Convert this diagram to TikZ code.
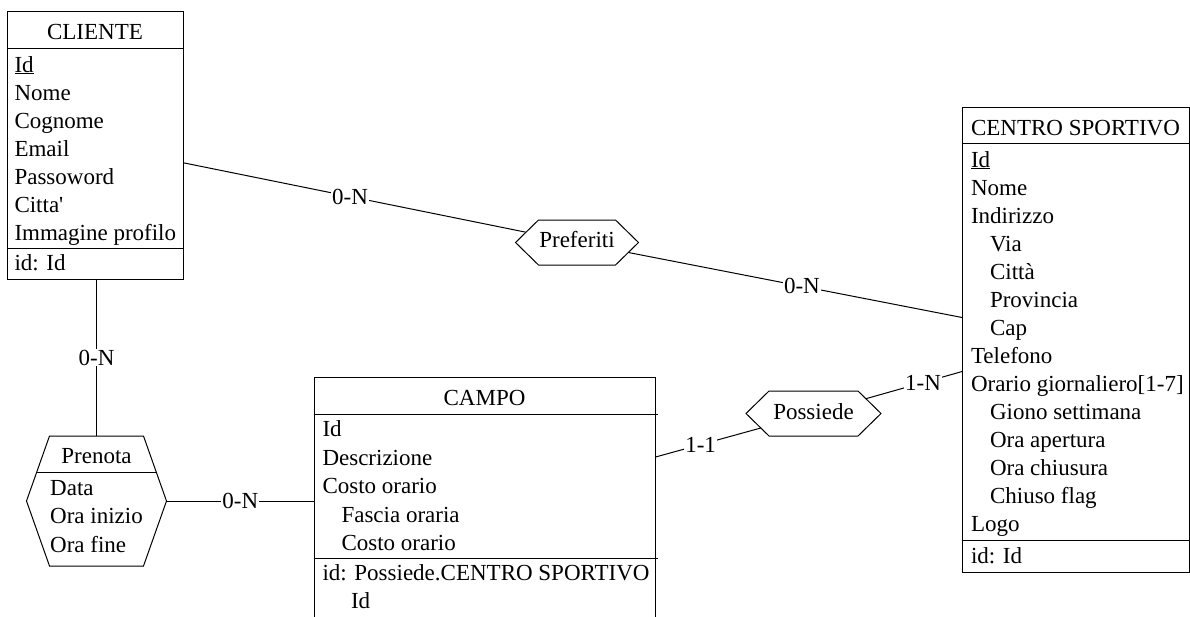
\documentclass[tikz,border=0pt]{standalone}
\usepackage{fontspec}
\setmainfont{Liberation Serif}
\usetikzlibrary{calc}
\pgfdeclarelayer{links}
\pgfdeclarelayer{frames}
\pgfsetlayers{links,frames,main}
\tikzset{
  entity/.style={draw, fill=white, inner sep=0pt, outer sep=0pt, line width=1pt},
  hexcore/.style={inner sep=0pt, outer sep=0pt},
  hexline/.style={draw=black, fill=white, line join=miter, line width=1pt},
  link/.style={draw=black, line width=1pt},
  title/.style={anchor=base, inner sep=0pt},
  attr/.style={anchor=base west, inner sep=0pt},
  card/.style={fill=white, inner sep=1pt},
}
\begin{document}
\begin{tikzpicture}[x=1pt, y=-1pt, line width=1pt, font=\fontsize{23}{28}\selectfont]
\useasboundingbox (0,0) rectangle (1190,616);

% ---------- entities ----------
\node[entity, minimum width=176pt, minimum height=268pt] (cliente) at (95,145) {};
\node[entity, minimum width=227pt, minimum height=465pt] (centro) at (1075.5,339.5) {};
\node[entity, minimum width=341pt, minimum height=254pt] (campo) at (484.5,504) {};

% header and identifier separators
\draw ($(cliente.north west)+(0,37)$) -- ($(cliente.north east)+(0,37)$);
\draw ($(cliente.south west)+(0,-31)$) -- ($(cliente.south east)+(0,-31)$);
\draw ($(centro.north west)+(0,36)$) -- ($(centro.north east)+(0,36)$);
\draw ($(centro.south west)+(0,-32)$) -- ($(centro.south east)+(0,-32)$);
\draw ($(campo.north west)+(0,37)$) -- ($(campo.north east)+(3,37)$);
\draw ($(campo.north west)+(0,181)$) -- ($(campo.north east)+(3,181)$);

% ---------- CLIENTE ----------
\node[title] (cliente-t) at (95,39.5) {CLIENTE};
\foreach \t [count=\i] in {{\underline{Id}},Nome,Cognome,Email,Passoword,Citta\textquotesingle,Immagine profilo}
  \node[attr] (cliente-a\i) at (14,{72+28*(\i-1)}) {\t};
\node[attr] (cliente-id) at (14,270) {id: Id};

% ---------- CENTRO SPORTIVO ----------
\node[title] (centro-t) at (1075.5,135) {CENTRO SPORTIVO};
\foreach \d/\t [count=\i] in {0/{\underline{Id}},0/Nome,0/Indirizzo,1/Via,1/Città,1/Provincia,1/Cap,0/Telefono,0/{Orario giornaliero[1-7]},1/Giono settimana,1/Ora apertura,1/Ora chiusura,1/Chiuso flag,0/Logo}
  \node[attr] (centro-a\i) at ({970.5+19*\d},{167+28*(\i-1)}) {\t};
\node[attr] (centro-id) at (970.5,563) {id: Id};

% ---------- CAMPO ----------
\node[title] (campo-t) at (484.5,405) {CAMPO};
\foreach \d/\t [count=\i] in {0/Id,0/Descrizione,0/Costo orario,1/Fascia oraria,1/Costo orario}
  \node[attr] (campo-a\i) at ({322+19*\d},{436.5+28.5*(\i-1)}) {\t};
\node[attr] (campo-id) at (322,580) {id: Possiede.CENTRO SPORTIVO};
\node[attr] (campo-idc) at (350.5,608.5) {Id};

% ---------- relationships ----------
\node[hexcore, minimum width=77pt, minimum height=45pt] (preferiti) at (577,242.5) {};
\node[hexcore, minimum width=89pt, minimum height=45pt] (possiede) at (813.5,413.5) {};
\node[hexcore, minimum width=94pt, minimum height=130pt] (prenota) at (96.5,501) {};

\foreach \h in {preferiti,possiede,prenota}{
  \coordinate (\h-l) at ($(\h.west)+(-23,0)$);
  \coordinate (\h-r) at ($(\h.east)+(23,0)$);
}

\begin{pgfonlayer}{frames}
  \foreach \h in {preferiti,possiede,prenota}
    \draw[hexline] (\h.north west) -- (\h.north east) -- (\h-r)
      -- (\h.south east) -- (\h.south west) -- (\h-l) -- cycle;
  \draw[link] ($(prenota.north west)!0.569!(prenota-l)$) -- ($(prenota.north east)!0.569!(prenota-r)$);
\end{pgfonlayer}

\node[title] (preferiti-t) at (577,247.5) {Preferiti};
\node[title] (possiede-t) at (813.5,419.5) {Possiede};
\node[title] (prenota-t) at (96.5,463) {Prenota};
\foreach \t [count=\i] in {Data,Ora inizio,Ora fine}
  \node[attr] (prenota-a\i) at (50,{495+28.5*(\i-1)}) {\t};

% ---------- connectors ----------
\begin{pgfonlayer}{links}
  \draw[link] (cliente) -- node[card, pos=0.47] (c1) {0-N} (preferiti);
  \draw[link] (preferiti) -- node[card, pos=0.538] (c2) {0-N} (centro);
  \draw[link] (prenota.north) -- node[card] (c3) {0-N} (prenota.north |- cliente.south);
  \draw[link] (prenota-r) -- node[card] (c4) {0-N} (prenota-r -| campo.west);
  \draw[link] (campo) -- node[card, pos=0.40] (c5) {1-1} (possiede);
  \draw[link] (possiede) -- node[card, pos=0.625] (c6) {1-N} (centro);
\end{pgfonlayer}
\end{tikzpicture}
\end{document}
